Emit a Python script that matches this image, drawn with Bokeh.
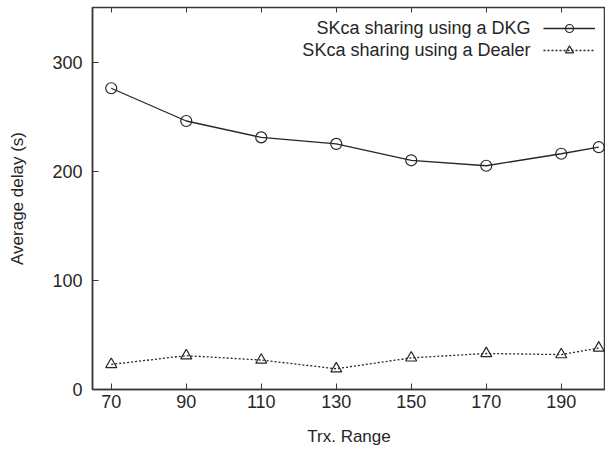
from bokeh.plotting import figure
from bokeh.models import Range1d, LinearAxis, FixedTicker, Label, Legend, LegendItem
from bokeh.core.properties import value
from bokeh.embed import file_html
from bokeh.resources import INLINE

# ---- data ----
trx_range = [70, 90, 110, 130, 150, 170, 190, 200]
delay_dkg = [276, 246, 231, 225, 210, 205, 216, 222]
delay_dealer = [23, 31, 27, 19, 29, 33, 32, 38]
x_ticks = [70, 90, 110, 130, 150, 170, 190]
y_ticks = [0, 100, 200, 300]
series_names = ["SKca sharing using a DKG", "SKca sharing using a Dealer"]

FONT = "Liberation Sans"
INK = "#262626"
FRAME = "#3a3a3a"

p = figure(width=605, height=449, output_backend="svg", toolbar_location=None,
           x_range=Range1d(65, 201.8), y_range=Range1d(0, 350),
           min_border_left=92, min_border_right=0, min_border_top=7, min_border_bottom=60)
p.grid.visible = False
p.outline_line_color = FRAME
p.outline_line_width = 1.5
p.background_fill_color = "white"

xa = p.xaxis[0]
xa.ticker = FixedTicker(ticks=x_ticks)
ya = p.yaxis[0]
ya.ticker = FixedTicker(ticks=y_ticks)
for ax in (xa, ya):
    ax.axis_line_color = FRAME
    ax.axis_line_width = 1.5
    ax.major_tick_in = 6
    ax.major_tick_out = 0
    ax.minor_tick_line_color = None
    ax.major_tick_line_color = FRAME
    ax.major_label_text_font = FONT
    ax.major_label_text_font_size = "18px"
    ax.major_label_text_color = INK
    ax.axis_label_text_font = FONT
    ax.axis_label_text_font_size = "17px"
    ax.axis_label_text_font_style = "normal"
    ax.axis_label_text_color = INK

xa.axis_label = "Trx. Range"
xa.major_label_standoff = 5
xa.axis_label_standoff = 16
ya.axis_label = "Average delay (s)"
ya.major_label_standoff = 10
ya.axis_label_standoff = 22

top = LinearAxis(ticker=FixedTicker(ticks=x_ticks),
                 major_label_overrides={t: "" for t in x_ticks},
                 major_label_standoff=0, axis_line_color=None, major_tick_in=5,
                 major_tick_out=0, minor_tick_line_color=None, major_tick_line_color=FRAME)
p.add_layout(top, "above")

r1 = p.line(trx_range, delay_dkg, line_color=INK, line_width=1.3)
s1 = p.scatter(trx_range, delay_dkg, marker="circle", size=11, fill_color=None,
               line_color=INK, line_width=1.2)
r2 = p.line(trx_range, delay_dealer, line_color=INK, line_width=1.3, line_dash="2 2")
s2 = p.scatter(trx_range, delay_dealer, marker="triangle", size=11, fill_color=None,
               line_color=INK, line_width=1.2)

legend = Legend(items=[LegendItem(label=value(""), renderers=[r1, s1]),
                       LegendItem(label=value(""), renderers=[r2, s2])],
                location=(451, 329), glyph_width=52, glyph_height=20, label_height=20,
                label_width=0, label_standoff=0, spacing=2, padding=0, margin=0,
                background_fill_alpha=0, border_line_alpha=0)
p.add_layout(legend, "center")

for name, yy in zip(series_names, [361.3, 339.3]):
    p.add_layout(Label(x=438, y=yy, x_units="screen", y_units="screen", text=name,
                       text_align="right", text_baseline="middle", text_font=FONT,
                       text_font_size="18px", text_color=INK))

open("out.html", "w").write(file_html(p, INLINE))
